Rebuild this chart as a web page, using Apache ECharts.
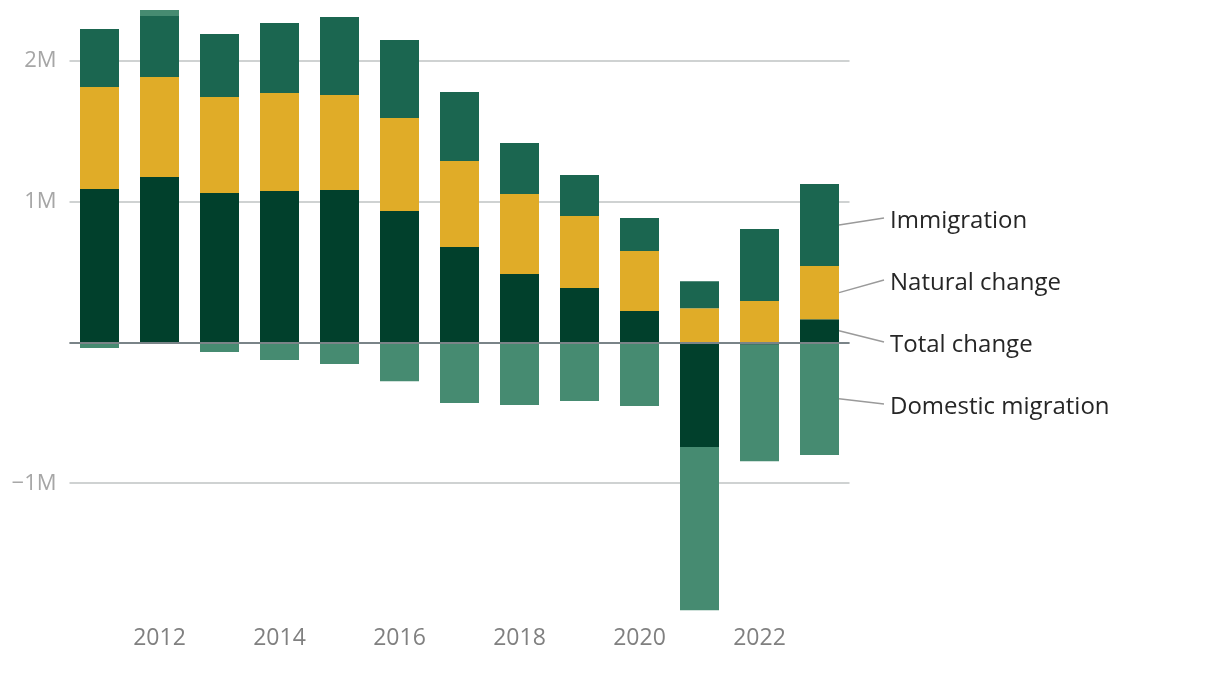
<!DOCTYPE html>
<html>
<head>
<meta charset="utf-8">
<script src="https://cdn.jsdelivr.net/npm/echarts@6/dist/echarts.min.js"></script>
<style>
html,body{margin:0;padding:0;background:#fff;}
#chart{width:1220px;height:674px;}
</style>
</head>
<body>
<div id="chart"></div>
<script>
const years = ['2011','2012','2013','2014','2015','2016','2017','2018','2019','2020','2021','2022','2023'];
const totalChange = [1090000, 1176000, 1062000, 1076000, 1083000, 934000, 678000, 486000, 387000, 223000, -743000, -16000, 166000];
const naturalChange = [725000, 710000, 682000, 696000, 675000, 661000, 611000, 569000, 511000, 427000, 244000, 294000, 377000];
const immigration = [412000, 434000, 448000, 498000, 555000, 554000, 491000, 362000, 292000, 234000, 192000, 512000, 583000];
const domesticMigration = [-39000, 42000, -67000, -124000, -153000, -276000, -430000, -444000, -416000, -451000, -1159000, -827000, -800000];
const yTickValues = [-1000000, 1000000, 2000000];
const yTickLabels = ['\u22121M', '1M', '2M'];
const seriesNames = ['Total change', 'Natural change', 'Immigration', 'Domestic migration'];
const seriesColors = ['#01402c', '#e0ac28', '#1b6650', '#468b71'];
const labelYs = {'Immigration': 219, 'Natural change': 281, 'Total change': 343, 'Domestic migration': 405};

const FONT = '"Open Sans", sans-serif';
const chart = echarts.init(document.getElementById('chart'), null, {renderer: 'canvas'});
const seriesData = [totalChange, naturalChange, immigration, domesticMigration];

const option = {
  animation: false,
  grid: {left: 69.5, right: 370.5, top: 4.7, bottom: 50, containLabel: false},
  xAxis: {
    type: 'category',
    data: years,
    axisLine: {show: false},
    axisTick: {show: false},
    axisLabel: {
      interval: function (i) { return i % 2 === 1; },
      color: '#808080',
      fontFamily: FONT,
      fontSize: 23,
      margin: 3
    }
  },
  yAxis: {
    type: 'value',
    min: -2000000,
    max: 2400000,
    interval: 1000000,
    axisLine: {show: false},
    axisTick: {show: false},
    axisLabel: {
      color: '#a6a6a6',
      fontFamily: FONT,
      fontSize: 22,
      margin: 13,
      showMinLabel: false,
      showMaxLabel: false,
      formatter: function (v) {
        const k = yTickValues.indexOf(v);
        return k >= 0 ? yTickLabels[k] : '';
      }
    },
    splitLine: {
      show: true,
      showMinLine: false,
      showMaxLine: false,
      lineStyle: {color: '#cfd2d2', width: 2}
    }
  },
  series: seriesNames.map(function (name, si) {
    const s = {
      name: name,
      type: 'bar',
      stack: 'all',
      barWidth: '65%',
      data: seriesData[si],
      itemStyle: {color: seriesColors[si]}
    };
    if (si === 0) {
      s.markLine = {
        silent: true,
        symbol: 'none',
        label: {show: false},
        lineStyle: {color: '#7a8488', width: 2, type: 'solid'},
        data: [{yAxis: 0}]
      };
    }
    return s;
  })
};
chart.setOption(option);

// leader lines + end labels, positioned from the library's scales
const last = years.length - 1;
const bases = {pos: 0, neg: 0};
const graphics = [];
const x0 = chart.convertToPixel({xAxisIndex: 0, yAxisIndex: 0}, [0, 0])[0];
const x1 = chart.convertToPixel({xAxisIndex: 0, yAxisIndex: 0}, [1, 0])[0];
const band = x1 - x0;
seriesNames.forEach(function (name, si) {
  const v = seriesData[si][last];
  let from, to;
  if (v >= 0) { from = bases.pos; to = bases.pos + v; bases.pos = to; }
  else { from = bases.neg; to = bases.neg + v; bases.neg = to; }
  const mid = (from + to) / 2;
  const p = chart.convertToPixel({xAxisIndex: 0, yAxisIndex: 0}, [last, mid]);
  const startX = p[0] + band * 0.65 / 2;
  const ly = labelYs[name];
  graphics.push({
    type: 'line',
    silent: true,
    z: 10,
    shape: {x1: startX, y1: p[1], x2: 884, y2: ly - 1},
    style: {stroke: '#9a9a9a', lineWidth: 1.5}
  });
  graphics.push({
    type: 'text',
    silent: true,
    z: 10,
    x: 890,
    y: ly + 2,
    style: {text: name, fill: '#262626', font: '24px ' + FONT, textAlign: 'left', textVerticalAlign: 'middle'}
  });
});
chart.setOption({graphic: graphics});
</script>
</body>
</html>
